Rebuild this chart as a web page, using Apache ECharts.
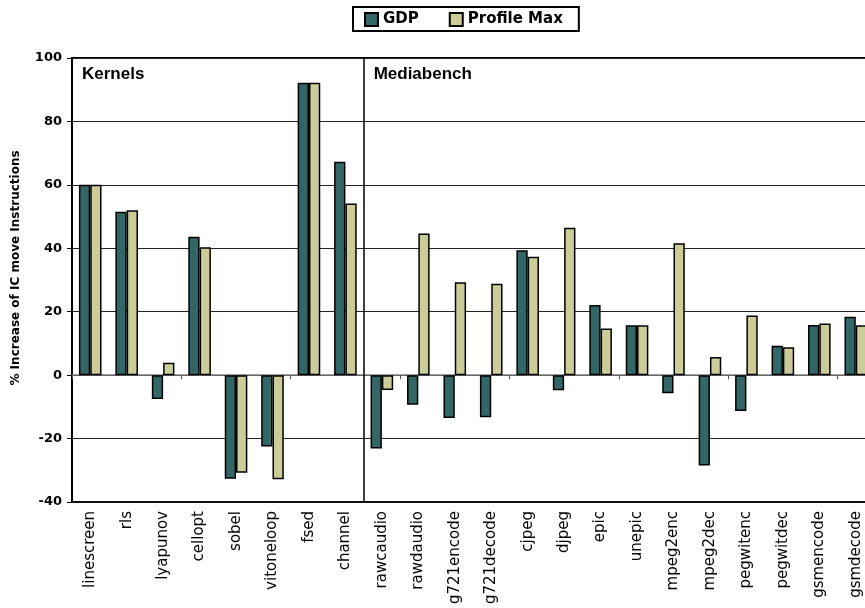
<!DOCTYPE html>
<html>
<head>
<meta charset="utf-8">
<script src="https://cdn.jsdelivr.net/npm/echarts@6/dist/echarts.min.js"></script>
<style>
  html, body { margin: 0; padding: 0; background: #fff; }
  #chart { width: 865px; height: 608px; }
</style>
</head>
<body>
<div id="chart"></div>
<script>
// Benchmarks: 8 kernels followed by the Mediabench programs
const categories = [
  'linescreen', 'rls', 'lyapunov', 'cellopt', 'sobel', 'vitoneloop', 'fsed', 'channel',
  'rawcaudio', 'rawdaudio', 'g721encode', 'g721decode', 'cjpeg', 'djpeg', 'epic', 'unepic',
  'mpeg2enc', 'mpeg2dec', 'pegwitenc', 'pegwitdec', 'gsmencode', 'gsmdecode'
];

// % increase of IC move instructions
const gdp = [
  60, 51.5, -7.5, 43.6, -32.7, -22.5, 92.2, 67.3,
  -23.1, -9.3, -13.5, -13.3, 39.4, -4.8, 22.1, 15.7,
  -5.7, -28.5, -11.3, 9.3, 15.8, 18.4
];
const profileMax = [
  60, 52, 3.9, 40.3, -30.8, -32.8, 92.2, 54.1,
  -4.7, 44.7, 29.3, 28.8, 37.3, 46.5, 14.7, 15.7,
  41.6, 5.7, 18.8, 8.8, 16.3, 15.7
];

const yTicks = { min: -40, max: 100, step: 20 };
const groupLabels = [
  { text: 'Kernels', firstIndex: 0 },
  { text: 'Mediabench', firstIndex: 8 }
];
const groupBoundary = 8;

const chart = echarts.init(document.getElementById('chart'));

const option = {
  animation: false,
  backgroundColor: '#ffffff',
  legend: {
    left: 353,
    top: 7,
    padding: [5, 16, 4, 11],
    borderColor: '#000',
    borderWidth: 2,
    itemWidth: 13,
    itemHeight: 13,
    itemGap: 30,
    icon: 'rect',
    textStyle: { fontFamily: 'DejaVu Sans', fontWeight: 'bold', fontSize: 15, color: '#000' },
    data: ['GDP', 'Profile Max']
  },
  grid: {
    left: 72,
    width: 802,
    top: 58,
    bottom: 106,
    outerBoundsMode: 'none',
    containLabel: false,
    show: true,
    borderColor: '#000',
    borderWidth: 2
  },
  xAxis: [
    {
      type: 'category',
      data: categories,
      position: 'bottom',
      axisLine: { onZero: false, lineStyle: { color: '#111', width: 2 } },
      axisTick: { show: false },
      axisLabel: {
        rotate: 90,
        margin: 9,
        interval: 0,
        fontFamily: 'DejaVu Sans',
        fontSize: 15,
        color: '#000'
      },
      splitLine: { show: false }
    },
    {
      // zero line with tick marks between categories
      type: 'category',
      data: categories,
      position: 'top',
      axisLine: { onZero: true, lineStyle: { color: '#808080', width: 1.5 } },
      axisTick: { show: true, inside: true, length: 4, lineStyle: { color: '#555', width: 1 } },
      axisLabel: { show: false },
      splitLine: { show: false }
    },
    {
      // continuous helper scale over the category bands, used for the group divider
      type: 'value',
      min: 0,
      max: categories.length,
      show: false,
      position: 'bottom'
    }
  ],
  yAxis: {
    type: 'value',
    min: yTicks.min,
    max: yTicks.max,
    interval: yTicks.step,
    name: '% Increase of IC move Instructions',
    nameLocation: 'middle',
    nameGap: 50,
    nameTextStyle: {
      fontFamily: 'DejaVu Sans',
      fontWeight: 'bold',
      fontSize: 12,
      color: '#000',
      padding: [0, 0, 0, 24]
    },
    axisLine: { show: true, lineStyle: { color: '#000', width: 2 } },
    axisTick: { show: true, length: 5, lineStyle: { color: '#000', width: 1 } },
    axisLabel: {
      margin: 10,
      fontFamily: 'DejaVu Sans',
      fontWeight: 'bold',
      fontSize: 13,
      color: '#000'
    },
    splitLine: { show: true, lineStyle: { color: '#222', width: 1 } }
  },
  series: [
    {
      name: 'GDP',
      type: 'bar',
      xAxisIndex: 0,
      data: gdp,
      barGap: '0%',
      barCategoryGap: '38%',
      itemStyle: { color: '#336666', borderColor: '#000', borderWidth: 1.5 }
    },
    {
      name: 'Profile Max',
      type: 'bar',
      xAxisIndex: 0,
      data: profileMax,
      barGap: '0%',
      barCategoryGap: '38%',
      itemStyle: { color: '#CCCC99', borderColor: '#000', borderWidth: 1.5 }
    },
    {
      name: 'divider',
      type: 'line',
      xAxisIndex: 2,
      data: [],
      silent: true,
      markLine: {
        symbol: 'none',
        silent: true,
        label: { show: false },
        lineStyle: { color: '#000', width: 1.5, type: 'solid' },
        data: [{ xAxis: groupBoundary }]
      }
    }
  ]
};

chart.setOption(option);

// Group captions placed just inside the top-left corner of each group
const topPx = chart.convertToPixel({ yAxisIndex: 0 }, yTicks.max);
const bandW = chart.convertToPixel({ xAxisIndex: 0 }, 1) - chart.convertToPixel({ xAxisIndex: 0 }, 0);
chart.setOption({
  graphic: groupLabels.map((g) => ({
    type: 'text',
    left: chart.convertToPixel({ xAxisIndex: 0 }, g.firstIndex) - bandW / 2 + 10,
    top: topPx + 8,
    style: {
      text: g.text,
      fontFamily: 'Liberation Sans',
      fontWeight: 'bold',
      fontSize: 17,
      fill: '#000'
    }
  }))
});
</script>
</body>
</html>
